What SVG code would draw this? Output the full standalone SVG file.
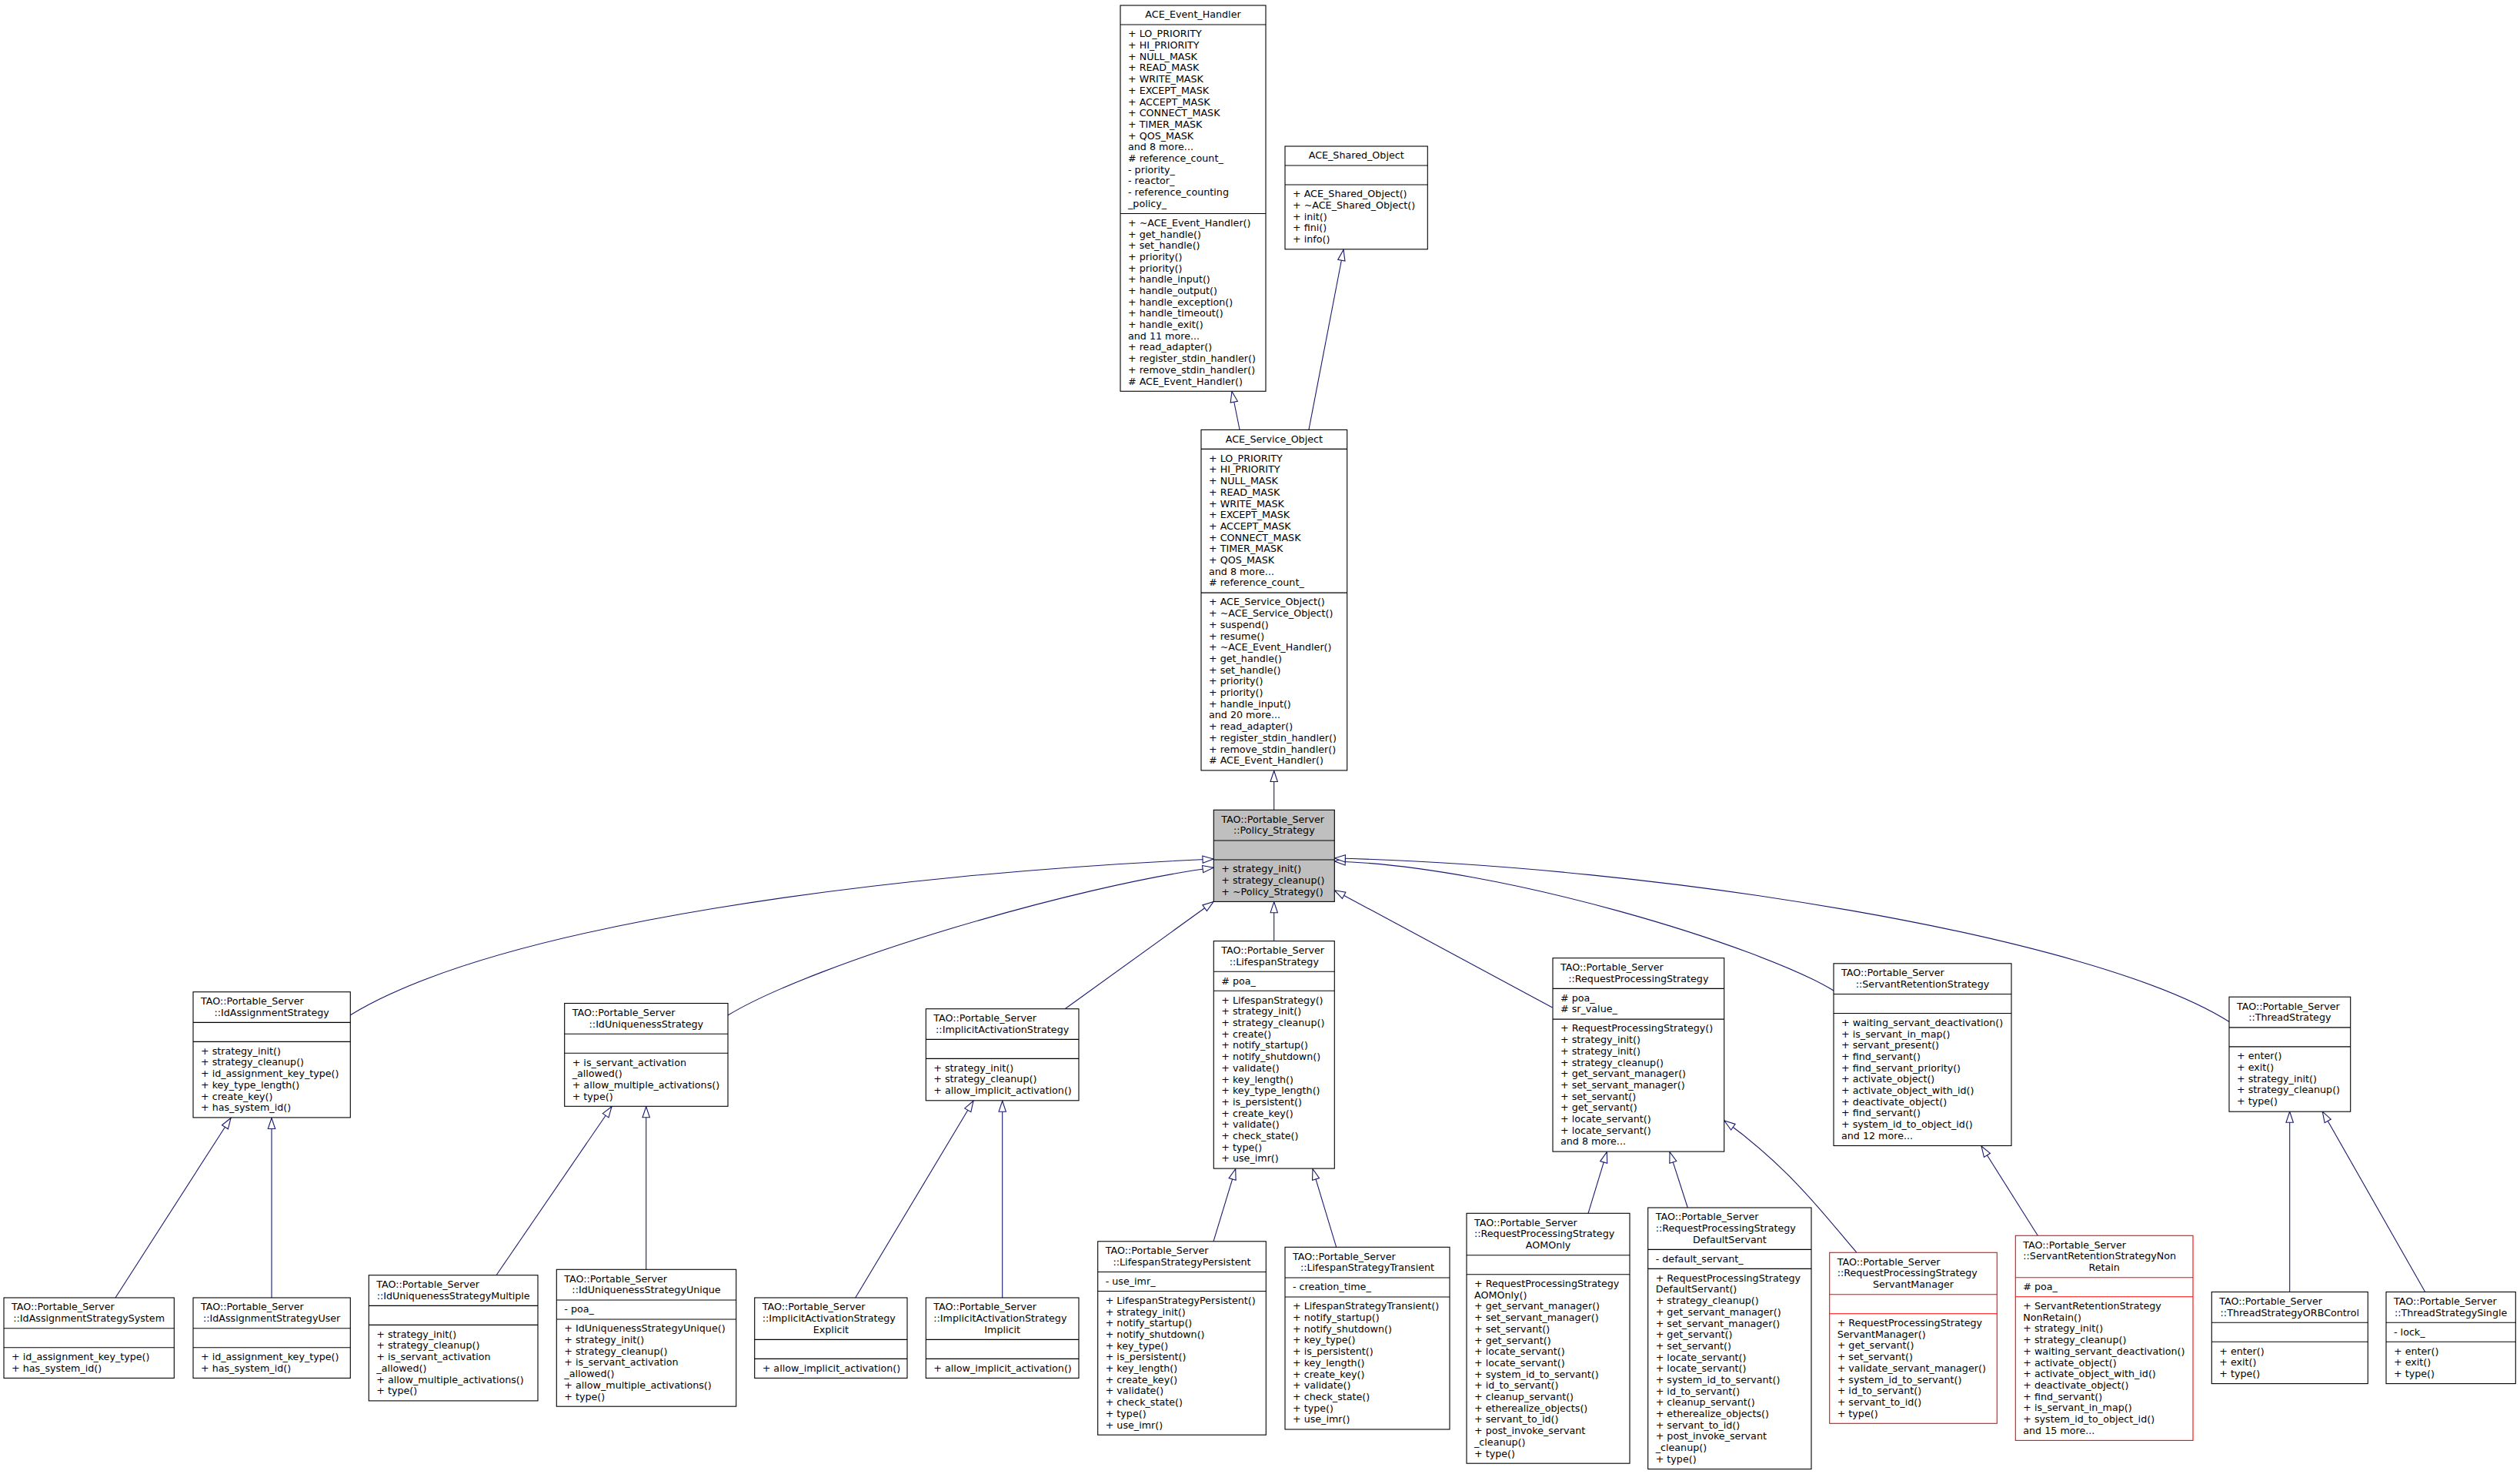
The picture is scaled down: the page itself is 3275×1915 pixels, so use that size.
<svg xmlns="http://www.w3.org/2000/svg" width="3275" height="1915" viewBox="0 0 3275 1915">
<style>
text{font-family:"DejaVu Sans","Liberation Sans",sans-serif;font-size:12.7px;fill:#000}
.c{text-anchor:middle}
.b{fill:#fff;stroke:#000;stroke-width:1.1}
.g{fill:#bfbfbf}
.r{stroke:#ff0000}
.s{stroke:#000;stroke-width:1.1}
.sr{stroke:#ff0000;stroke-width:1.1}
.e{fill:none;stroke:#191970;stroke-width:1.1;marker-end:url(#a)}
</style>
<defs>
<marker id="a" viewBox="0 0 14 10" refX="14" refY="5" markerWidth="14" markerHeight="10" markerUnits="userSpaceOnUse" orient="auto" overflow="visible">
<path d="M0,0.3 L14,5 L0,9.7 Z" fill="#fff" stroke="#191970" stroke-width="1.1"/>
</marker>
</defs>
<rect width="3275" height="1915" fill="#fff"/>

<g id="edges">
<path class="e" d="M1611,558 L1601,508.5"/>
<path class="e" d="M1701,558 L1746,324.5"/>
<path class="e" d="M1655.7,1052 L1655.7,1001.5"/>
<path class="e" d="M455,1319 C650,1200 1150,1135 1577,1116"/>
<path class="e" d="M946,1319 C1060,1250 1400,1150 1577,1127.3"/>
<path class="e" d="M1384.4,1310.5 L1577,1171.5"/>
<path class="e" d="M1655.7,1222.6 L1655.7,1171.8"/>
<path class="e" d="M2017.5,1309 L1734.3,1156.7"/>
<path class="e" d="M2383,1287 C2290,1230 1950,1125 1734.3,1119"/>
<path class="e" d="M2898,1328 C2720,1215 2150,1125 1734.3,1115"/>
<path class="e" d="M150,1686 L300,1452.5"/>
<path class="e" d="M353,1686 L353,1452.5"/>
<path class="e" d="M645,1656.7 L795,1437.7"/>
<path class="e" d="M839.7,1649.3 L839.7,1437.7"/>
<path class="e" d="M1111.7,1686 L1265,1430.3"/>
<path class="e" d="M1302.7,1686 L1302.7,1430.3"/>
<path class="e" d="M1577,1612.8 L1605.7,1518.6"/>
<path class="e" d="M1736.7,1620.3 L1706,1518.6"/>
<path class="e" d="M2064,1576.3 L2088.3,1496.6"/>
<path class="e" d="M2193.3,1569 L2170,1496.6"/>
<path class="e" d="M2413,1627.3 C2380,1590 2330,1520 2241,1456"/>
<path class="e" d="M2648.3,1605.3 L2575,1489"/>
<path class="e" d="M2975.7,1678.5 L2975.7,1444.2"/>
<path class="e" d="M3151.7,1678.5 L3018.3,1444.2"/>
</g>

<g id="ACE_Event_Handler">
<rect class="b" x="1456" y="7" width="189" height="501.3"/>
<line class="s" x1="1456" y1="32" x2="1645" y2="32"/>
<line class="s" x1="1456" y1="277.5" x2="1645" y2="277.5"/>
<text class="c" x="1550.5" y="23.3">ACE_Event_Handler</text>
<text x="1466" y="48.3"><tspan x="1466">+ LO_PRIORITY</tspan><tspan x="1466" dy="14.7">+ HI_PRIORITY</tspan><tspan x="1466" dy="14.7">+ NULL_MASK</tspan><tspan x="1466" dy="14.7">+ READ_MASK</tspan><tspan x="1466" dy="14.7">+ WRITE_MASK</tspan><tspan x="1466" dy="14.7">+ EXCEPT_MASK</tspan><tspan x="1466" dy="14.7">+ ACCEPT_MASK</tspan><tspan x="1466" dy="14.7">+ CONNECT_MASK</tspan><tspan x="1466" dy="14.7">+ TIMER_MASK</tspan><tspan x="1466" dy="14.7">+ QOS_MASK</tspan><tspan x="1466" dy="14.7">and 8 more...</tspan><tspan x="1466" dy="14.7"># reference_count_</tspan><tspan x="1466" dy="14.7">- priority_</tspan><tspan x="1466" dy="14.7">- reactor_</tspan><tspan x="1466" dy="14.7">- reference_counting</tspan><tspan x="1466" dy="14.7">_policy_</tspan></text>
<text x="1466" y="293.8"><tspan x="1466">+ ~ACE_Event_Handler()</tspan><tspan x="1466" dy="14.7">+ get_handle()</tspan><tspan x="1466" dy="14.7">+ set_handle()</tspan><tspan x="1466" dy="14.7">+ priority()</tspan><tspan x="1466" dy="14.7">+ priority()</tspan><tspan x="1466" dy="14.7">+ handle_input()</tspan><tspan x="1466" dy="14.7">+ handle_output()</tspan><tspan x="1466" dy="14.7">+ handle_exception()</tspan><tspan x="1466" dy="14.7">+ handle_timeout()</tspan><tspan x="1466" dy="14.7">+ handle_exit()</tspan><tspan x="1466" dy="14.7">and 11 more...</tspan><tspan x="1466" dy="14.7">+ read_adapter()</tspan><tspan x="1466" dy="14.7">+ register_stdin_handler()</tspan><tspan x="1466" dy="14.7">+ remove_stdin_handler()</tspan><tspan x="1466" dy="14.7"># ACE_Event_Handler()</tspan></text>
</g>

<g id="ACE_Shared_Object">
<rect class="b" x="1670" y="190" width="185.3" height="133.8"/>
<line class="s" x1="1670" y1="215" x2="1855.3" y2="215"/>
<line class="s" x1="1670" y1="240" x2="1855.3" y2="240"/>
<text class="c" x="1762.7" y="206.3">ACE_Shared_Object</text>
<text x="1680" y="256.3"><tspan x="1680">+ ACE_Shared_Object()</tspan><tspan x="1680" dy="14.7">+ ~ACE_Shared_Object()</tspan><tspan x="1680" dy="14.7">+ init()</tspan><tspan x="1680" dy="14.7">+ fini()</tspan><tspan x="1680" dy="14.7">+ info()</tspan></text>
</g>

<g id="ACE_Service_Object">
<rect class="b" x="1561" y="558.4" width="189.7" height="442.5"/>
<line class="s" x1="1561" y1="583.4" x2="1750.7" y2="583.4"/>
<line class="s" x1="1561" y1="770.1" x2="1750.7" y2="770.1"/>
<text class="c" x="1655.85" y="574.7">ACE_Service_Object</text>
<text x="1571" y="599.7"><tspan x="1571">+ LO_PRIORITY</tspan><tspan x="1571" dy="14.7">+ HI_PRIORITY</tspan><tspan x="1571" dy="14.7">+ NULL_MASK</tspan><tspan x="1571" dy="14.7">+ READ_MASK</tspan><tspan x="1571" dy="14.7">+ WRITE_MASK</tspan><tspan x="1571" dy="14.7">+ EXCEPT_MASK</tspan><tspan x="1571" dy="14.7">+ ACCEPT_MASK</tspan><tspan x="1571" dy="14.7">+ CONNECT_MASK</tspan><tspan x="1571" dy="14.7">+ TIMER_MASK</tspan><tspan x="1571" dy="14.7">+ QOS_MASK</tspan><tspan x="1571" dy="14.7">and 8 more...</tspan><tspan x="1571" dy="14.7"># reference_count_</tspan></text>
<text x="1571" y="786.4"><tspan x="1571">+ ACE_Service_Object()</tspan><tspan x="1571" dy="14.7">+ ~ACE_Service_Object()</tspan><tspan x="1571" dy="14.7">+ suspend()</tspan><tspan x="1571" dy="14.7">+ resume()</tspan><tspan x="1571" dy="14.7">+ ~ACE_Event_Handler()</tspan><tspan x="1571" dy="14.7">+ get_handle()</tspan><tspan x="1571" dy="14.7">+ set_handle()</tspan><tspan x="1571" dy="14.7">+ priority()</tspan><tspan x="1571" dy="14.7">+ priority()</tspan><tspan x="1571" dy="14.7">+ handle_input()</tspan><tspan x="1571" dy="14.7">and 20 more...</tspan><tspan x="1571" dy="14.7">+ read_adapter()</tspan><tspan x="1571" dy="14.7">+ register_stdin_handler()</tspan><tspan x="1571" dy="14.7">+ remove_stdin_handler()</tspan><tspan x="1571" dy="14.7"># ACE_Event_Handler()</tspan></text>
</g>

<g id="Policy_Strategy">
<rect class="b g" x="1577.3" y="1052.3" width="157" height="119.1"/>
<line class="s" x1="1577.3" y1="1092" x2="1734.3" y2="1092"/>
<line class="s" x1="1577.3" y1="1117" x2="1734.3" y2="1117"/>
<text x="1587.3" y="1068.6">TAO::Portable_Server</text>
<text class="c" x="1655.8" y="1083.3">::Policy_Strategy</text>
<text x="1587.3" y="1133.3"><tspan x="1587.3">+ strategy_init()</tspan><tspan x="1587.3" dy="14.7">+ strategy_cleanup()</tspan><tspan x="1587.3" dy="14.7">+ ~Policy_Strategy()</tspan></text>
</g>

<g id="IdAssignmentStrategy">
<rect class="b" x="251" y="1288.7" width="204.3" height="163.2"/>
<line class="s" x1="251" y1="1328.4" x2="455.3" y2="1328.4"/>
<line class="s" x1="251" y1="1353.4" x2="455.3" y2="1353.4"/>
<text x="261" y="1305">TAO::Portable_Server</text>
<text class="c" x="353.15" y="1319.7">::IdAssignmentStrategy</text>
<text x="261" y="1369.7"><tspan x="261">+ strategy_init()</tspan><tspan x="261" dy="14.7">+ strategy_cleanup()</tspan><tspan x="261" dy="14.7">+ id_assignment_key_type()</tspan><tspan x="261" dy="14.7">+ key_type_length()</tspan><tspan x="261" dy="14.7">+ create_key()</tspan><tspan x="261" dy="14.7">+ has_system_id()</tspan></text>
</g>

<g id="IdAssignmentStrategySystem">
<rect class="b" x="5" y="1686" width="221.3" height="104.4"/>
<line class="s" x1="5" y1="1725.7" x2="226.3" y2="1725.7"/>
<line class="s" x1="5" y1="1750.7" x2="226.3" y2="1750.7"/>
<text x="15" y="1702.3">TAO::Portable_Server</text>
<text class="c" x="115.65" y="1717">::IdAssignmentStrategySystem</text>
<text x="15" y="1767"><tspan x="15">+ id_assignment_key_type()</tspan><tspan x="15" dy="14.7">+ has_system_id()</tspan></text>
</g>

<g id="IdAssignmentStrategyUser">
<rect class="b" x="251" y="1686" width="204.3" height="104.4"/>
<line class="s" x1="251" y1="1725.7" x2="455.3" y2="1725.7"/>
<line class="s" x1="251" y1="1750.7" x2="455.3" y2="1750.7"/>
<text x="261" y="1702.3">TAO::Portable_Server</text>
<text class="c" x="353.15" y="1717">::IdAssignmentStrategyUser</text>
<text x="261" y="1767"><tspan x="261">+ id_assignment_key_type()</tspan><tspan x="261" dy="14.7">+ has_system_id()</tspan></text>
</g>

<g id="IdUniquenessStrategy">
<rect class="b" x="733.7" y="1303.5" width="212.3" height="133.8"/>
<line class="s" x1="733.7" y1="1343.2" x2="946" y2="1343.2"/>
<line class="s" x1="733.7" y1="1368.2" x2="946" y2="1368.2"/>
<text x="743.7" y="1319.8">TAO::Portable_Server</text>
<text class="c" x="839.85" y="1334.5">::IdUniquenessStrategy</text>
<text x="743.7" y="1384.5"><tspan x="743.7">+ is_servant_activation</tspan><tspan x="743.7" dy="14.7">_allowed()</tspan><tspan x="743.7" dy="14.7">+ allow_multiple_activations()</tspan><tspan x="743.7" dy="14.7">+ type()</tspan></text>
</g>

<g id="IdUniquenessStrategyMultiple">
<rect class="b" x="479.3" y="1656.7" width="219.7" height="163.2"/>
<line class="s" x1="479.3" y1="1696.4" x2="699" y2="1696.4"/>
<line class="s" x1="479.3" y1="1721.4" x2="699" y2="1721.4"/>
<text x="489.3" y="1673">TAO::Portable_Server</text>
<text class="c" x="589.15" y="1687.7">::IdUniquenessStrategyMultiple</text>
<text x="489.3" y="1737.7"><tspan x="489.3">+ strategy_init()</tspan><tspan x="489.3" dy="14.7">+ strategy_cleanup()</tspan><tspan x="489.3" dy="14.7">+ is_servant_activation</tspan><tspan x="489.3" dy="14.7">_allowed()</tspan><tspan x="489.3" dy="14.7">+ allow_multiple_activations()</tspan><tspan x="489.3" dy="14.7">+ type()</tspan></text>
</g>

<g id="IdUniquenessStrategyUnique">
<rect class="b" x="723.3" y="1649.3" width="233.4" height="177.9"/>
<line class="s" x1="723.3" y1="1689" x2="956.7" y2="1689"/>
<line class="s" x1="723.3" y1="1714" x2="956.7" y2="1714"/>
<text x="733.3" y="1665.6">TAO::Portable_Server</text>
<text class="c" x="840" y="1680.3">::IdUniquenessStrategyUnique</text>
<text x="733.3" y="1705.3">- poa_</text>
<text x="733.3" y="1730.3"><tspan x="733.3">+ IdUniquenessStrategyUnique()</tspan><tspan x="733.3" dy="14.7">+ strategy_init()</tspan><tspan x="733.3" dy="14.7">+ strategy_cleanup()</tspan><tspan x="733.3" dy="14.7">+ is_servant_activation</tspan><tspan x="733.3" dy="14.7">_allowed()</tspan><tspan x="733.3" dy="14.7">+ allow_multiple_activations()</tspan><tspan x="733.3" dy="14.7">+ type()</tspan></text>
</g>

<g id="ImplicitActivationStrategy">
<rect class="b" x="1203.3" y="1310.7" width="198.7" height="119.1"/>
<line class="s" x1="1203.3" y1="1350.4" x2="1402" y2="1350.4"/>
<line class="s" x1="1203.3" y1="1375.4" x2="1402" y2="1375.4"/>
<text x="1213.3" y="1327">TAO::Portable_Server</text>
<text class="c" x="1302.65" y="1341.7">::ImplicitActivationStrategy</text>
<text x="1213.3" y="1391.7"><tspan x="1213.3">+ strategy_init()</tspan><tspan x="1213.3" dy="14.7">+ strategy_cleanup()</tspan><tspan x="1213.3" dy="14.7">+ allow_implicit_activation()</tspan></text>
</g>

<g id="ImplicitActivationStrategyExplicit">
<rect class="b" x="980.7" y="1686" width="198.3" height="104.4"/>
<line class="s" x1="980.7" y1="1740.4" x2="1179" y2="1740.4"/>
<line class="s" x1="980.7" y1="1765.4" x2="1179" y2="1765.4"/>
<text x="990.7" y="1702.3">TAO::Portable_Server</text>
<text x="990.7" y="1717">::ImplicitActivationStrategy</text>
<text class="c" x="1079.85" y="1731.7">Explicit</text>
<text x="990.7" y="1781.7">+ allow_implicit_activation()</text>
</g>

<g id="ImplicitActivationStrategyImplicit">
<rect class="b" x="1203.3" y="1686" width="198.7" height="104.4"/>
<line class="s" x1="1203.3" y1="1740.4" x2="1402" y2="1740.4"/>
<line class="s" x1="1203.3" y1="1765.4" x2="1402" y2="1765.4"/>
<text x="1213.3" y="1702.3">TAO::Portable_Server</text>
<text x="1213.3" y="1717">::ImplicitActivationStrategy</text>
<text class="c" x="1302.65" y="1731.7">Implicit</text>
<text x="1213.3" y="1781.7">+ allow_implicit_activation()</text>
</g>

<g id="LifespanStrategy">
<rect class="b" x="1577.3" y="1222.6" width="157" height="295.5"/>
<line class="s" x1="1577.3" y1="1262.3" x2="1734.3" y2="1262.3"/>
<line class="s" x1="1577.3" y1="1287.3" x2="1734.3" y2="1287.3"/>
<text x="1587.3" y="1238.9">TAO::Portable_Server</text>
<text class="c" x="1655.8" y="1253.6">::LifespanStrategy</text>
<text x="1587.3" y="1278.6"># poa_</text>
<text x="1587.3" y="1303.6"><tspan x="1587.3">+ LifespanStrategy()</tspan><tspan x="1587.3" dy="14.7">+ strategy_init()</tspan><tspan x="1587.3" dy="14.7">+ strategy_cleanup()</tspan><tspan x="1587.3" dy="14.7">+ create()</tspan><tspan x="1587.3" dy="14.7">+ notify_startup()</tspan><tspan x="1587.3" dy="14.7">+ notify_shutdown()</tspan><tspan x="1587.3" dy="14.7">+ validate()</tspan><tspan x="1587.3" dy="14.7">+ key_length()</tspan><tspan x="1587.3" dy="14.7">+ key_type_length()</tspan><tspan x="1587.3" dy="14.7">+ is_persistent()</tspan><tspan x="1587.3" dy="14.7">+ create_key()</tspan><tspan x="1587.3" dy="14.7">+ validate()</tspan><tspan x="1587.3" dy="14.7">+ check_state()</tspan><tspan x="1587.3" dy="14.7">+ type()</tspan><tspan x="1587.3" dy="14.7">+ use_imr()</tspan></text>
</g>

<g id="LifespanStrategyPersistent">
<rect class="b" x="1426.7" y="1612.8" width="218.6" height="251.4"/>
<line class="s" x1="1426.7" y1="1652.5" x2="1645.3" y2="1652.5"/>
<line class="s" x1="1426.7" y1="1677.5" x2="1645.3" y2="1677.5"/>
<text x="1436.7" y="1629.1">TAO::Portable_Server</text>
<text class="c" x="1536" y="1643.8">::LifespanStrategyPersistent</text>
<text x="1436.7" y="1668.8">- use_imr_</text>
<text x="1436.7" y="1693.8"><tspan x="1436.7">+ LifespanStrategyPersistent()</tspan><tspan x="1436.7" dy="14.7">+ strategy_init()</tspan><tspan x="1436.7" dy="14.7">+ notify_startup()</tspan><tspan x="1436.7" dy="14.7">+ notify_shutdown()</tspan><tspan x="1436.7" dy="14.7">+ key_type()</tspan><tspan x="1436.7" dy="14.7">+ is_persistent()</tspan><tspan x="1436.7" dy="14.7">+ key_length()</tspan><tspan x="1436.7" dy="14.7">+ create_key()</tspan><tspan x="1436.7" dy="14.7">+ validate()</tspan><tspan x="1436.7" dy="14.7">+ check_state()</tspan><tspan x="1436.7" dy="14.7">+ type()</tspan><tspan x="1436.7" dy="14.7">+ use_imr()</tspan></text>
</g>

<g id="LifespanStrategyTransient">
<rect class="b" x="1670" y="1620.3" width="214" height="236.7"/>
<line class="s" x1="1670" y1="1660" x2="1884" y2="1660"/>
<line class="s" x1="1670" y1="1685" x2="1884" y2="1685"/>
<text x="1680" y="1636.6">TAO::Portable_Server</text>
<text class="c" x="1777" y="1651.3">::LifespanStrategyTransient</text>
<text x="1680" y="1676.3">- creation_time_</text>
<text x="1680" y="1701.3"><tspan x="1680">+ LifespanStrategyTransient()</tspan><tspan x="1680" dy="14.7">+ notify_startup()</tspan><tspan x="1680" dy="14.7">+ notify_shutdown()</tspan><tspan x="1680" dy="14.7">+ key_type()</tspan><tspan x="1680" dy="14.7">+ is_persistent()</tspan><tspan x="1680" dy="14.7">+ key_length()</tspan><tspan x="1680" dy="14.7">+ create_key()</tspan><tspan x="1680" dy="14.7">+ validate()</tspan><tspan x="1680" dy="14.7">+ check_state()</tspan><tspan x="1680" dy="14.7">+ type()</tspan><tspan x="1680" dy="14.7">+ use_imr()</tspan></text>
</g>

<g id="RequestProcessingStrategy">
<rect class="b" x="2018" y="1244.7" width="222.7" height="251.4"/>
<line class="s" x1="2018" y1="1284.4" x2="2240.7" y2="1284.4"/>
<line class="s" x1="2018" y1="1324.1" x2="2240.7" y2="1324.1"/>
<text x="2028" y="1261">TAO::Portable_Server</text>
<text class="c" x="2129.35" y="1275.7">::RequestProcessingStrategy</text>
<text x="2028" y="1300.7"><tspan x="2028"># poa_</tspan><tspan x="2028" dy="14.7"># sr_value_</tspan></text>
<text x="2028" y="1340.4"><tspan x="2028">+ RequestProcessingStrategy()</tspan><tspan x="2028" dy="14.7">+ strategy_init()</tspan><tspan x="2028" dy="14.7">+ strategy_init()</tspan><tspan x="2028" dy="14.7">+ strategy_cleanup()</tspan><tspan x="2028" dy="14.7">+ get_servant_manager()</tspan><tspan x="2028" dy="14.7">+ set_servant_manager()</tspan><tspan x="2028" dy="14.7">+ set_servant()</tspan><tspan x="2028" dy="14.7">+ get_servant()</tspan><tspan x="2028" dy="14.7">+ locate_servant()</tspan><tspan x="2028" dy="14.7">+ locate_servant()</tspan><tspan x="2028" dy="14.7">and 8 more...</tspan></text>
</g>

<g id="RequestProcessingStrategyAOMOnly">
<rect class="b" x="1906" y="1576.3" width="212" height="324.9"/>
<line class="s" x1="1906" y1="1630.7" x2="2118" y2="1630.7"/>
<line class="s" x1="1906" y1="1655.7" x2="2118" y2="1655.7"/>
<text x="1916" y="1592.6">TAO::Portable_Server</text>
<text x="1916" y="1607.3">::RequestProcessingStrategy</text>
<text class="c" x="2012" y="1622">AOMOnly</text>
<text x="1916" y="1672"><tspan x="1916">+ RequestProcessingStrategy</tspan><tspan x="1916" dy="14.7">AOMOnly()</tspan><tspan x="1916" dy="14.7">+ get_servant_manager()</tspan><tspan x="1916" dy="14.7">+ set_servant_manager()</tspan><tspan x="1916" dy="14.7">+ set_servant()</tspan><tspan x="1916" dy="14.7">+ get_servant()</tspan><tspan x="1916" dy="14.7">+ locate_servant()</tspan><tspan x="1916" dy="14.7">+ locate_servant()</tspan><tspan x="1916" dy="14.7">+ system_id_to_servant()</tspan><tspan x="1916" dy="14.7">+ id_to_servant()</tspan><tspan x="1916" dy="14.7">+ cleanup_servant()</tspan><tspan x="1916" dy="14.7">+ etherealize_objects()</tspan><tspan x="1916" dy="14.7">+ servant_to_id()</tspan><tspan x="1916" dy="14.7">+ post_invoke_servant</tspan><tspan x="1916" dy="14.7">_cleanup()</tspan><tspan x="1916" dy="14.7">+ type()</tspan></text>
</g>

<g id="RequestProcessingStrategyDefaultServant">
<rect class="b" x="2141.7" y="1569" width="212.3" height="339.6"/>
<line class="s" x1="2141.7" y1="1623.4" x2="2354" y2="1623.4"/>
<line class="s" x1="2141.7" y1="1648.4" x2="2354" y2="1648.4"/>
<text x="2151.7" y="1585.3">TAO::Portable_Server</text>
<text x="2151.7" y="1600">::RequestProcessingStrategy</text>
<text class="c" x="2247.85" y="1614.7">DefaultServant</text>
<text x="2151.7" y="1639.7">- default_servant_</text>
<text x="2151.7" y="1664.7"><tspan x="2151.7">+ RequestProcessingStrategy</tspan><tspan x="2151.7" dy="14.7">DefaultServant()</tspan><tspan x="2151.7" dy="14.7">+ strategy_cleanup()</tspan><tspan x="2151.7" dy="14.7">+ get_servant_manager()</tspan><tspan x="2151.7" dy="14.7">+ set_servant_manager()</tspan><tspan x="2151.7" dy="14.7">+ get_servant()</tspan><tspan x="2151.7" dy="14.7">+ set_servant()</tspan><tspan x="2151.7" dy="14.7">+ locate_servant()</tspan><tspan x="2151.7" dy="14.7">+ locate_servant()</tspan><tspan x="2151.7" dy="14.7">+ system_id_to_servant()</tspan><tspan x="2151.7" dy="14.7">+ id_to_servant()</tspan><tspan x="2151.7" dy="14.7">+ cleanup_servant()</tspan><tspan x="2151.7" dy="14.7">+ etherealize_objects()</tspan><tspan x="2151.7" dy="14.7">+ servant_to_id()</tspan><tspan x="2151.7" dy="14.7">+ post_invoke_servant</tspan><tspan x="2151.7" dy="14.7">_cleanup()</tspan><tspan x="2151.7" dy="14.7">+ type()</tspan></text>
</g>

<g id="RequestProcessingStrategyServantManager">
<rect class="b r" x="2377.7" y="1627.3" width="217.6" height="222"/>
<line class="sr" x1="2377.7" y1="1681.7" x2="2595.3" y2="1681.7"/>
<line class="sr" x1="2377.7" y1="1706.7" x2="2595.3" y2="1706.7"/>
<text x="2387.7" y="1643.6">TAO::Portable_Server</text>
<text x="2387.7" y="1658.3">::RequestProcessingStrategy</text>
<text class="c" x="2486.5" y="1673">ServantManager</text>
<text x="2387.7" y="1723"><tspan x="2387.7">+ RequestProcessingStrategy</tspan><tspan x="2387.7" dy="14.7">ServantManager()</tspan><tspan x="2387.7" dy="14.7">+ get_servant()</tspan><tspan x="2387.7" dy="14.7">+ set_servant()</tspan><tspan x="2387.7" dy="14.7">+ validate_servant_manager()</tspan><tspan x="2387.7" dy="14.7">+ system_id_to_servant()</tspan><tspan x="2387.7" dy="14.7">+ id_to_servant()</tspan><tspan x="2387.7" dy="14.7">+ servant_to_id()</tspan><tspan x="2387.7" dy="14.7">+ type()</tspan></text>
</g>

<g id="ServantRetentionStrategy">
<rect class="b" x="2383" y="1251.8" width="231" height="236.7"/>
<line class="s" x1="2383" y1="1291.5" x2="2614" y2="1291.5"/>
<line class="s" x1="2383" y1="1316.5" x2="2614" y2="1316.5"/>
<text x="2393" y="1268.1">TAO::Portable_Server</text>
<text class="c" x="2498.5" y="1282.8">::ServantRetentionStrategy</text>
<text x="2393" y="1332.8"><tspan x="2393">+ waiting_servant_deactivation()</tspan><tspan x="2393" dy="14.7">+ is_servant_in_map()</tspan><tspan x="2393" dy="14.7">+ servant_present()</tspan><tspan x="2393" dy="14.7">+ find_servant()</tspan><tspan x="2393" dy="14.7">+ find_servant_priority()</tspan><tspan x="2393" dy="14.7">+ activate_object()</tspan><tspan x="2393" dy="14.7">+ activate_object_with_id()</tspan><tspan x="2393" dy="14.7">+ deactivate_object()</tspan><tspan x="2393" dy="14.7">+ find_servant()</tspan><tspan x="2393" dy="14.7">+ system_id_to_object_id()</tspan><tspan x="2393" dy="14.7">and 12 more...</tspan></text>
</g>

<g id="ServantRetentionStrategyNonRetain">
<rect class="b r" x="2619.3" y="1605.3" width="230.7" height="266.1"/>
<line class="sr" x1="2619.3" y1="1659.7" x2="2850" y2="1659.7"/>
<line class="sr" x1="2619.3" y1="1684.7" x2="2850" y2="1684.7"/>
<text x="2629.3" y="1621.6">TAO::Portable_Server</text>
<text x="2629.3" y="1636.3">::ServantRetentionStrategyNon</text>
<text class="c" x="2734.65" y="1651">Retain</text>
<text x="2629.3" y="1676"># poa_</text>
<text x="2629.3" y="1701"><tspan x="2629.3">+ ServantRetentionStrategy</tspan><tspan x="2629.3" dy="14.7">NonRetain()</tspan><tspan x="2629.3" dy="14.7">+ strategy_init()</tspan><tspan x="2629.3" dy="14.7">+ strategy_cleanup()</tspan><tspan x="2629.3" dy="14.7">+ waiting_servant_deactivation()</tspan><tspan x="2629.3" dy="14.7">+ activate_object()</tspan><tspan x="2629.3" dy="14.7">+ activate_object_with_id()</tspan><tspan x="2629.3" dy="14.7">+ deactivate_object()</tspan><tspan x="2629.3" dy="14.7">+ find_servant()</tspan><tspan x="2629.3" dy="14.7">+ is_servant_in_map()</tspan><tspan x="2629.3" dy="14.7">+ system_id_to_object_id()</tspan><tspan x="2629.3" dy="14.7">and 15 more...</tspan></text>
</g>

<g id="ThreadStrategy">
<rect class="b" x="2897" y="1295.2" width="157.7" height="149"/>
<line class="s" x1="2897" y1="1334.9" x2="3054.7" y2="1334.9"/>
<line class="s" x1="2897" y1="1359.9" x2="3054.7" y2="1359.9"/>
<text x="2907" y="1311.5">TAO::Portable_Server</text>
<text class="c" x="2975.85" y="1326.2">::ThreadStrategy</text>
<text x="2907" y="1376.2"><tspan x="2907">+ enter()</tspan><tspan x="2907" dy="14.7">+ exit()</tspan><tspan x="2907" dy="14.7">+ strategy_init()</tspan><tspan x="2907" dy="14.7">+ strategy_cleanup()</tspan><tspan x="2907" dy="14.7">+ type()</tspan></text>
</g>

<g id="ThreadStrategyORBControl">
<rect class="b" x="2874.3" y="1678.5" width="203" height="119.1"/>
<line class="s" x1="2874.3" y1="1718.2" x2="3077.3" y2="1718.2"/>
<line class="s" x1="2874.3" y1="1743.2" x2="3077.3" y2="1743.2"/>
<text x="2884.3" y="1694.8">TAO::Portable_Server</text>
<text class="c" x="2975.8" y="1709.5">::ThreadStrategyORBControl</text>
<text x="2884.3" y="1759.5"><tspan x="2884.3">+ enter()</tspan><tspan x="2884.3" dy="14.7">+ exit()</tspan><tspan x="2884.3" dy="14.7">+ type()</tspan></text>
</g>

<g id="ThreadStrategySingle">
<rect class="b" x="3101" y="1678.5" width="168.3" height="119.1"/>
<line class="s" x1="3101" y1="1718.2" x2="3269.3" y2="1718.2"/>
<line class="s" x1="3101" y1="1743.2" x2="3269.3" y2="1743.2"/>
<text x="3111" y="1694.8">TAO::Portable_Server</text>
<text class="c" x="3185.15" y="1709.5">::ThreadStrategySingle</text>
<text x="3111" y="1734.5">- lock_</text>
<text x="3111" y="1759.5"><tspan x="3111">+ enter()</tspan><tspan x="3111" dy="14.7">+ exit()</tspan><tspan x="3111" dy="14.7">+ type()</tspan></text>
</g>
</svg>
